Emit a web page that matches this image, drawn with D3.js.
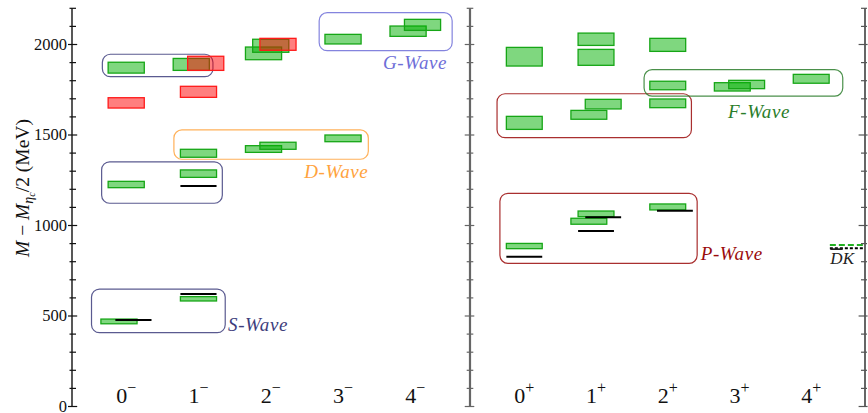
<!DOCTYPE html>
<html><head><meta charset="utf-8">
<script src="https://cdn.jsdelivr.net/npm/d3@7"></script>
<style>body{margin:0;background:#fff} svg{display:block}</style>
</head><body>
<svg id="chart" width="868" height="413"></svg>
<script>
// spin labels shared by both parity panels
const jLabels = ["0", "1", "2", "3", "4"];
const negSign = "\u2212", posSign = "+";

// lattice levels: [J, low, high, slot]; slot -1/0/+1 staggers levels that overlap
const negLattice = [
  [0, 1842, 1902, 0], [0, 1209, 1244, 0], [0, 457, 483, -1],
  [1, 1857, 1923, -1], [1, 1377, 1421, 0], [1, 1266, 1307, 0], [1, 583, 607, 0],
  [2, 1916, 1986, -1], [2, 1957, 2029, 0], [2, 1404, 1441, -1], [2, 1421, 1460, 1],
  [3, 2003, 2056, 0], [3, 1463, 1500, 0],
  [4, 2045, 2102, -1], [4, 2078, 2139, 1]
];
// second set of negative-parity levels (red)
const negOther = [
  [0, 1649, 1706, 0], [1, 1708, 1769, 0], [1, 1857, 1935, 1], [2, 1968, 2034, 1]
];
// experimental masses: [J, mass, slot]
const negExp = [[0, 478, 1], [1, 1218, 0], [1, 621, 0]];

const posLattice = [
  [0, 1881, 1984, 0], [0, 1531, 1603, 0], [0, 872, 901, 0],
  [1, 1995, 2063, 0], [1, 1885, 1973, 0], [1, 1644, 1697, 1], [1, 1587, 1636, -1],
  [1, 1049, 1080, 0], [1, 1007, 1040, -1],
  [2, 1962, 2034, 0], [2, 1750, 1797, 0], [2, 1651, 1699, 0], [2, 1086, 1119, 0],
  [3, 1743, 1789, -1], [3, 1756, 1802, 1],
  [4, 1786, 1835, 0]
];
const posExp = [[0, 828, 0], [1, 1045, 1], [1, 970, 0], [2, 1082, 1]];

// D-bar K thresholds (lattice, physical)
const dkLattice = 892, dkPhysical = 874;

// multiplet groupings: [panel, J from, J to, mass low, mass high, wave]
const waveBoxes = [
  ["neg", -0.48, 1.37, 408, 649, "S"],
  ["neg", -0.34, 1.33, 1123, 1352, "S"],
  ["neg", -0.33, 1.20, 1822, 1946, "S"],
  ["neg", 0.66, 3.35, 1366, 1528, "D"],
  ["neg", 2.67, 4.51, 1966, 2176, "G"],
  ["pos", -0.38, 2.33, 1485, 1728, "P"],
  ["pos", -0.34, 2.41, 791, 1178, "P"],
  ["pos", 1.67, 4.44, 1715, 1861, "F"]
];
// wave names: [panel, wave, J position, mass, anchor]
const waveLabels = [
  ["neg", "S", 1.41, 417, "start"],
  ["neg", "D", 3.35, 1262, "end"],
  ["neg", "G", 4.44, 1862, "end"],
  ["pos", "P", 2.46, 809, "start"],
  ["pos", "F", 2.84, 1594, "start"]
];
const yTicks = d3.range(0, 2201, 100);

const waveColor = {S: "#3d3d7c", D: "#ffa33d", G: "#6e6ed8", P: "#9a0b0b", F: "#2a7d2a"};
const SERIF = "'Liberation Serif', 'DejaVu Serif', serif";

const svg = d3.select("#chart");
const y = d3.scaleLinear().domain([0, 2200]).range([406.5, 8.3]);
const xNeg = d3.scaleLinear().domain([-0.75, 4.75]).range([72, 469.5]);
const xPos = d3.scaleLinear().domain([-0.75, 4.75]).range([470.5, 865]);
const xOf = p => p === "neg" ? xNeg : xPos;
const halfW = 0.25, slotStep = 0.1;

// rounded multiplet boxes
waveBoxes.forEach(([p, j0, j1, m0, m1, w]) => {
  const x = xOf(p);
  svg.append("rect")
    .attr("x", x(j0)).attr("y", y(m1))
    .attr("width", x(j1) - x(j0)).attr("height", y(m0) - y(m1))
    .attr("rx", 8).attr("ry", 8)
    .attr("fill", "none").attr("stroke", waveColor[w]).attr("stroke-width", 1.2)
    .attr("stroke-opacity", 0.85);
});

function drawLevels(data, x, fill, stroke) {
  svg.append("g").selectAll("rect").data(data).join("rect")
    .attr("x", d => x(d[0] + d[3] * slotStep - halfW))
    .attr("width", d => x(d[0] + d[3] * slotStep + halfW) - x(d[0] + d[3] * slotStep - halfW))
    .attr("y", d => y(d[2]))
    .attr("height", d => y(d[1]) - y(d[2]))
    .attr("fill", fill).attr("stroke", stroke).attr("stroke-width", 1.3);
}
function drawExp(data, x) {
  svg.append("g").selectAll("line").data(data).join("line")
    .attr("x1", d => x(d[0] + d[2] * slotStep - halfW))
    .attr("x2", d => x(d[0] + d[2] * slotStep + halfW))
    .attr("y1", d => y(d[1])).attr("y2", d => y(d[1]))
    .attr("stroke", "#000").attr("stroke-width", 2);
}
drawLevels(negLattice, xNeg, "rgba(0,175,0,0.5)", "#16a616");
drawLevels(negOther, xNeg, "rgba(255,0,0,0.5)", "#ff1a1a");
drawExp(negExp, xNeg);
drawLevels(posLattice, xPos, "rgba(0,175,0,0.5)", "#16a616");
drawExp(posExp, xPos);

// D-bar K thresholds at the right edge
const thrX0 = xPos(4.26), thrX1 = xPos(4.75);
svg.append("line").attr("x1", thrX0).attr("x2", thrX1)
  .attr("y1", y(dkLattice)).attr("y2", y(dkLattice))
  .attr("stroke", "#22b022").attr("stroke-width", 2).attr("stroke-dasharray", "6,3");
svg.append("line").attr("x1", thrX0).attr("x2", thrX1)
  .attr("y1", y(dkPhysical)).attr("y2", y(dkPhysical))
  .attr("stroke", "#000").attr("stroke-width", 2).attr("stroke-dasharray", "3,2");
const dk = svg.append("text").attr("x", thrX0 + 0.5).attr("y", y(dkPhysical) + 16)
  .attr("font-family", SERIF).attr("font-style", "italic").attr("font-size", 17).attr("fill", "#222");
dk.append("tspan").attr("text-decoration", "overline").text("D");
dk.append("tspan").text("K");

// wave names
waveLabels.forEach(([p, w, j, m, anchor]) => {
  svg.append("text").attr("x", xOf(p)(j)).attr("y", y(m))
    .attr("text-anchor", anchor)
    .attr("font-family", SERIF).attr("font-style", "italic").attr("font-size", 19)
    .attr("letter-spacing", 0.6)
    .attr("fill", waveColor[w]).text(w + "-Wave");
});

// axes: spines with inward ticks, longer ticks every 500 MeV
function spine(x0, dirs, color, width) {
  svg.append("line").attr("x1", x0).attr("x2", x0)
    .attr("y1", y(0)).attr("y2", y(2200))
    .attr("stroke", color).attr("stroke-width", width);
  svg.append("g").selectAll("line").data(yTicks).join("line")
    .attr("x1", d => x0 + (d % 500 === 0 ? dirs[0] * 1.6 : dirs[0]))
    .attr("x2", d => x0 + (d % 500 === 0 ? dirs[1] * 1.3 : dirs[1]))
    .attr("y1", d => y(d)).attr("y2", d => y(d))
    .attr("stroke", color).attr("stroke-width", 1.2);
}
spine(xNeg.range()[0], [-2.5, 4], "#111", 1.4);
spine(470, [-3.3, 3.3], "#666", 2.2);
spine(xPos.range()[1], [-4, 2], "#555", 1.8);

svg.append("g").selectAll("text").data(yTicks.filter(d => d % 500 === 0)).join("text")
  .attr("x", 67).attr("y", d => y(d) + 5)
  .attr("text-anchor", "end").attr("font-family", SERIF).attr("font-size", 16.5)
  .attr("fill", "#111").text(d => d);

// spin-parity category labels
function catLabels(x, sign) {
  const g = svg.append("g").selectAll("text").data(jLabels).join("text")
    .attr("x", (d, i) => x(i)).attr("y", 403)
    .attr("text-anchor", "middle").attr("font-family", SERIF).attr("font-size", 22).attr("fill", "#111");
  g.append("tspan").text(d => d);
  g.append("tspan").attr("dy", -10).attr("font-size", 16).text(sign);
}
catLabels(xNeg, negSign);
catLabels(xPos, posSign);

// vertical axis title
const yt = svg.append("text")
  .attr("transform", "translate(29,188) rotate(-90)")
  .attr("text-anchor", "middle").attr("font-family", SERIF).attr("font-size", 19.5).attr("fill", "#111");
yt.append("tspan").attr("font-style", "italic").text("M");
yt.append("tspan").text(" \u2212 ");
yt.append("tspan").attr("font-style", "italic").text("M");
yt.append("tspan").attr("font-style", "italic").attr("font-size", 14).attr("dy", 4).text("\u03b7");
yt.append("tspan").attr("font-style", "italic").attr("font-size", 10).attr("dy", 2).text("c");
yt.append("tspan").attr("dy", -6).text("/2 (MeV)");
</script>
</body></html>
